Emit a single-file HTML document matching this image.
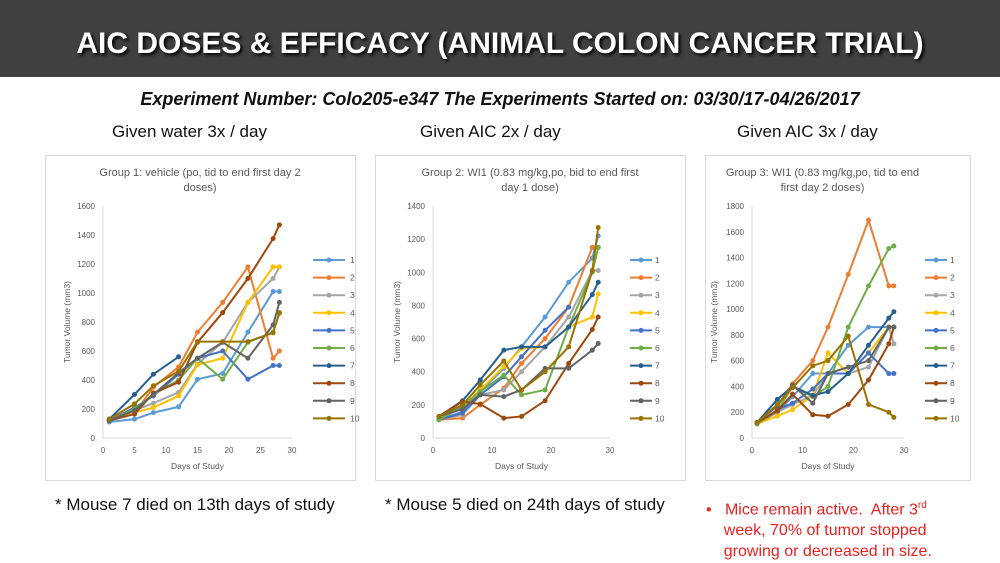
<!DOCTYPE html>
<html><head><meta charset="utf-8">
<style>
body{margin:0;width:1000px;height:563px;background:#fff;position:relative;overflow:hidden;font-family:"Liberation Sans Narrow","Liberation Sans",sans-serif;}
.hdr{position:absolute;left:0;top:0;width:1000px;height:77px;background:#404040;}
.ttl{position:absolute;left:0;width:1000px;top:27px;text-align:center;color:#fff;font-weight:bold;font-size:30px;text-shadow:2px 2px 3px #000;}
.sub{position:absolute;left:0;width:1000px;top:89px;text-align:center;font-weight:bold;font-style:italic;font-size:18px;color:#111;}
.col{position:absolute;top:122px;font-size:17px;color:#111;}
.note{position:absolute;top:495px;font-size:17px;color:#111;font-family:"Liberation Sans",sans-serif;}
.red{position:absolute;left:706px;top:495px;font-size:16px;color:#e8201e;line-height:21px;font-family:"Liberation Sans",sans-serif;}
svg{position:absolute;left:0;top:0;}
</style></head><body>
<div class="hdr"></div>
<div class="ttl">AIC DOSES &amp; EFFICACY (ANIMAL COLON CANCER TRIAL)</div>
<div class="sub">Experiment Number: Colo205-e347 The Experiments Started on: 03/30/17-04/26/2017</div>
<div class="col" style="left:112px">Given water 3x / day</div>
<div class="col" style="left:420px">Given AIC 2x / day</div>
<div class="col" style="left:737px">Given AIC 3x / day</div>
<div class="note" style="left:55px">* Mouse 7 died on 13th days of study</div>
<div class="note" style="left:385px">* Mouse 5 died on 24th days of study</div>
<div class="red">•&nbsp;&nbsp;&nbsp;Mice remain active.&nbsp; After 3<sup style="font-size:10px">rd</sup><br>&nbsp;&nbsp;&nbsp;&nbsp;week, 70% of tumor stopped<br>&nbsp;&nbsp;&nbsp;&nbsp;growing or decreased in size.</div>
<svg id="s" width="1000" height="563"></svg>
<script>
const days=[1,5,8,12,15,19,23,27,28];
const colors=["#5B9BD5","#ED7D31","#A5A5A5","#FFC000","#4472C4","#70AD47","#255E91","#9E480E","#636363","#997300"];
const g1=[[110,130,175,215,405,445,730,1010,1010],[120,170,350,490,730,935,1180,550,600],[120,190,240,315,510,660,935,1100,1180],[120,175,210,290,505,550,935,1180,1180],[120,210,290,440,550,600,405,500,500],[120,200,300,400,550,405,660,730,860],[130,300,440,560],[120,165,310,385,660,865,1100,1375,1470],[120,190,300,450,550,660,550,780,935],[130,235,360,460,665,665,665,725,865]];
const g2=[[110,160,280,420,550,730,940,1085,1220],[110,120,200,300,450,600,790,1150,1150],[110,140,260,290,400,550,730,1010,1010],[110,190,290,430,540,550,670,730,870],[110,150,260,370,490,650,790],[110,190,280,380,260,290,670,1000,1150],[130,225,350,530,550,550,670,865,940],[130,220,205,120,130,225,450,655,730],[130,175,260,250,290,420,420,530,570],[130,200,320,465,290,400,550,1010,1270]];
const g3=[[110,200,320,500,500,720,860,860,860],[120,250,420,600,860,1270,1690,1180,1180],[110,200,260,330,500,500,550,860,730],[110,170,220,330,660,500,660,860,860],[110,220,270,380,500,500,660,500,500],[110,210,400,320,400,860,1180,1470,1490],[120,300,400,330,360,500,720,930,980],[120,210,340,180,170,260,450,730,860],[120,250,410,270,500,550,600,860,860],[120,260,390,560,600,790,260,200,160]];
const xt1=[0,5,10,15,20,25,30],xt2=[0,10,20,30];
const yt1=[0,200,400,600,800,1000,1200,1400,1600],yt2=[0,200,400,600,800,1000,1200,1400],yt3=[0,200,400,600,800,1000,1200,1400,1600,1800];
const titles=[["Group 1: vehicle (po, tid to end first day 2","doses)"],["Group 2: WI1 (0.83 mg/kg,po, bid to end first","day 1 dose)"],["Group 3: WI1 (0.83 mg/kg,po, tid to end","first day 2 doses)"]];
const NS="http://www.w3.org/2000/svg",S=document.getElementById('s');
function mk(t,a,txt){const e=document.createElementNS(NS,t);for(const k in a)e.setAttribute(k,a[k]);if(txt!=null)e.textContent=txt;S.appendChild(e);return e;}
const cfgs=[{bx:45,bw:310,x0:103,x1:292,ymax:1600,xt:xt1,yt:yt1,data:g1,lx:313,tx:350,yl:70},
{bx:375,bw:310,x0:433,x1:610,ymax:1400,xt:xt2,yt:yt2,data:g2,lx:630,tx:655,yl:400},
{bx:705,bw:265,x0:752,x1:904,ymax:1800,xt:xt2,yt:yt3,data:g3,lx:925,tx:950,yl:717}];
cfgs.forEach((c,ci)=>{
 const yb=438,yt=206;
 const X=v=>c.x0+(c.x1-c.x0)*v/30, Y=v=>yb-(yb-yt)*v/c.ymax;
 let e=mk('rect',{x:c.bx+.5,y:155.5,width:c.bw,height:325,fill:'#fff',stroke:'#d9d9d9'});
 
 const cx=c.bx+c.bw/2-(ci==2?15:0);
 titles[ci].forEach((t,i)=>{e=mk('text',{x:cx,y:176+i*15,'text-anchor':'middle','font-size':11,fill:'#595959','font-family':'Liberation Sans, sans-serif'},t);
 });
 e=mk('line',{x1:X(0),x2:X(0),y1:yt,y2:yb,stroke:'#d9d9d9'});
 
 e=mk('line',{x1:X(0),x2:X(30),y1:yb,y2:yb,stroke:'#d9d9d9'});
 
 c.yt.forEach(v=>{e=mk('text',{x:X(0)-8,y:Y(v)+3,'text-anchor':'end','font-size':8,fill:'#595959','font-family':'Liberation Sans, sans-serif'},v);
 });
 c.xt.forEach(v=>{e=mk('text',{x:X(v),y:yb+15,'text-anchor':'middle','font-size':8,fill:'#595959','font-family':'Liberation Sans, sans-serif'},v);
 });
 e=mk('text',{x:(X(0)+X(30))/2,y:yb+31,'text-anchor':'middle','font-size':8.5,fill:'#595959','font-family':'Liberation Sans, sans-serif'},'Days of Study');
 
 e=mk('text',{x:0,y:0,'text-anchor':'middle','font-size':8.5,fill:'#595959','font-family':'Liberation Sans, sans-serif',transform:'translate('+c.yl+','+((yb+yt)/2)+') rotate(-90)'},'Tumor Volume (mm3)');
 
 c.data.forEach((s,si)=>{
  const pts=s.map((v,i)=>X(days[i])+','+Y(v)).join(' ');
  e=mk('polyline',{points:pts,fill:'none',stroke:colors[si],'stroke-width':2});
  
  s.forEach((v,i)=>{e=mk('circle',{cx:X(days[i]),cy:Y(v),r:2.5,fill:colors[si]});
  });
  const ly=260+si*17.6;
  e=mk('line',{x1:c.lx,x2:c.lx+(ci==0?32:22),y1:ly,y2:ly,stroke:colors[si],'stroke-width':2});
  
  e=mk('circle',{cx:c.lx+(ci==0?16:11),cy:ly,r:2.5,fill:colors[si]});
  
  e=mk('text',{x:c.tx,y:ly+3,'font-size':8.5,fill:'#595959','font-family':'Liberation Sans, sans-serif'},si+1);
  
 });
});
</script>
</body></html>
